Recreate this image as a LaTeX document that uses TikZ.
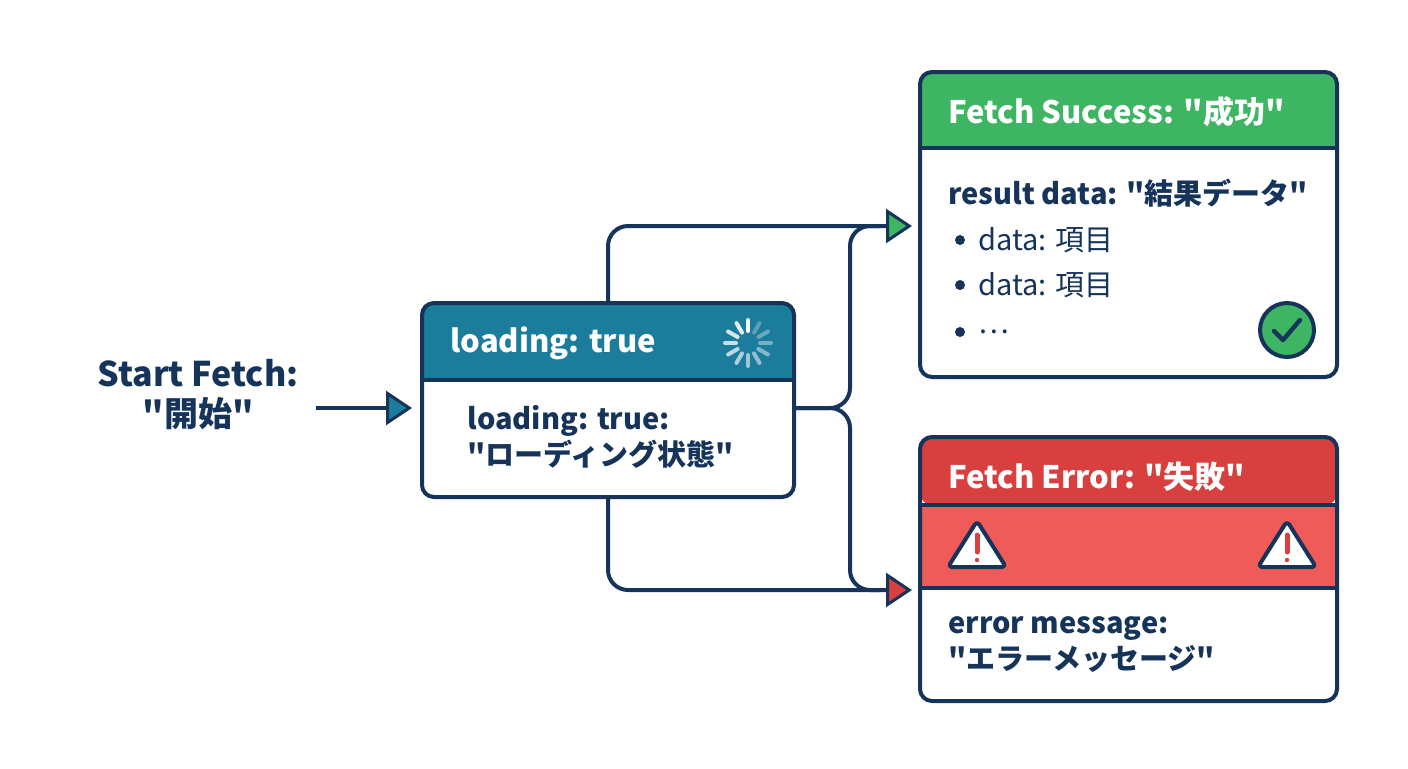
\documentclass[tikz,border=0pt]{standalone}
\usepackage{fontspec}
\setmainfont{Noto Sans CJK JP}[Ligatures=TeXOff]
\usetikzlibrary{arrows.meta}
\usetikzlibrary{positioning}
\usetikzlibrary{calc}
\definecolor{navy}{HTML}{16335A}
\definecolor{teal}{HTML}{1C7C9C}
\definecolor{okgreen}{HTML}{3DB563}
\definecolor{errred}{HTML}{D83F3F}
\definecolor{errband}{HTML}{EE5B58}
\tikzset{
  box/.style={draw=navy, line width=2pt, rounded corners=6pt},
  txt/.style={anchor=west, text=navy, font=\fontsize{14.5}{18}\selectfont\bfseries, inner sep=0pt},
  head/.style={txt, text=white, font=\fontsize{15.5}{18}\selectfont\bfseries},
  link/.style={draw=navy, line width=2pt, rounded corners=10pt},
  tip/.style={-{Triangle[length=13pt,width=17pt,fill=#1,line width=1.5pt]}},
}
\begin{document}
\begin{tikzpicture}[x=0.5pt,y=-0.5pt]
\useasboundingbox (0,0) rectangle (1408,768);

% start
\node[txt, anchor=center, align=center, font=\fontsize{17}{20}\selectfont\bfseries] (start) at (198,395) {Start Fetch:\\"開始"};
\coordinate (startend) at (316,408);

% loading box
\fill[teal, rounded corners=6pt] (422,303) rectangle (794,380);
\fill[teal] (422,360) rectangle (794,380);
\draw[box] (422,303) rectangle (794,497);
\draw[navy, line width=2pt] (422,380) -- (794,380);
\node[head] (lhead) at (450,343) {loading: true};
\node[txt, align=left] (lbody) at (467,437) {loading: true:\\"ローディング状態"};
\coordinate (ltop) at (608,303);
\coordinate (lbot) at (608,497);
\coordinate (lright) at (794,408);
\coordinate (lleft) at (412,408);
\foreach \a [count=\i] in {90,60,...,-240}
  \draw[white, line width=2pt, line cap=round, opacity={1-\i*0.06}]
    ($(748,343)+(\a:-12)$) -- ($(748,343)+(\a:-23)$);

% success box
\fill[okgreen, rounded corners=6pt] (920,72) rectangle (1337,148);
\fill[okgreen] (920,130) rectangle (1337,148);
\draw[box] (920,72) rectangle (1337,377);
\draw[navy, line width=2pt] (920,148) -- (1337,148);
\node[head] (shead) at (948,112) {Fetch Success: "成功"};
\node[txt] (sres) at (948,193) {result data: "結果データ"};
\foreach \y/\t [count=\i] in {240/data: 項目, 285/data: 項目, 332/…} {
  \fill[navy] (960,\y) circle (5);
  \node[txt, font=\fontsize{14.5}{18}\selectfont] (sitem\i) at (978,\y) {\t};
}
\node[circle, draw=navy, line width=2pt, fill=okgreen, minimum size=27pt] (check) at (1287,330) {};
\draw[navy, line width=2.2pt, line cap=round, line join=round] (1274,331) -- (1283,340) -- (1300,320);
\coordinate (sin) at (912,226);

% error box
\fill[errred, rounded corners=6pt] (920,437) rectangle (1337,505);
\fill[errband] (920,505) rectangle (1337,588);
\draw[box] (920,437) rectangle (1337,701);
\draw[navy, line width=2pt] (920,505) -- (1337,505) (920,588) -- (1337,588);
\node[head] (ehead) at (948,477) {Fetch Error: "失敗"};
\node[txt, align=left] (ebody) at (948,645) {error message:\\"エラーメッセージ"};
\foreach \x in {977,1287} {
  \draw[navy, fill=white, line width=2pt, line join=round, rounded corners=2pt]
    (\x,521) -- (\x+29,567) -- (\x-29,567) -- cycle;
  \draw[errred, line width=2.5pt, line cap=round] (\x,535) -- (\x,552);
  \fill[errred] (\x,560) circle (2.2);
}
\coordinate (ein) at (912,590);

% connectors
\draw[link] (lright) -- (850,408) |- (880,226);
\draw[link] (lright) -- (850,408) |- (880,590);
\draw[link, tip=teal] (startend) -- (lleft);
\draw[link, tip=okgreen] (ltop) |- (sin);
\draw[link, tip=errred] (lbot) |- (ein);
\end{tikzpicture}
\end{document}
